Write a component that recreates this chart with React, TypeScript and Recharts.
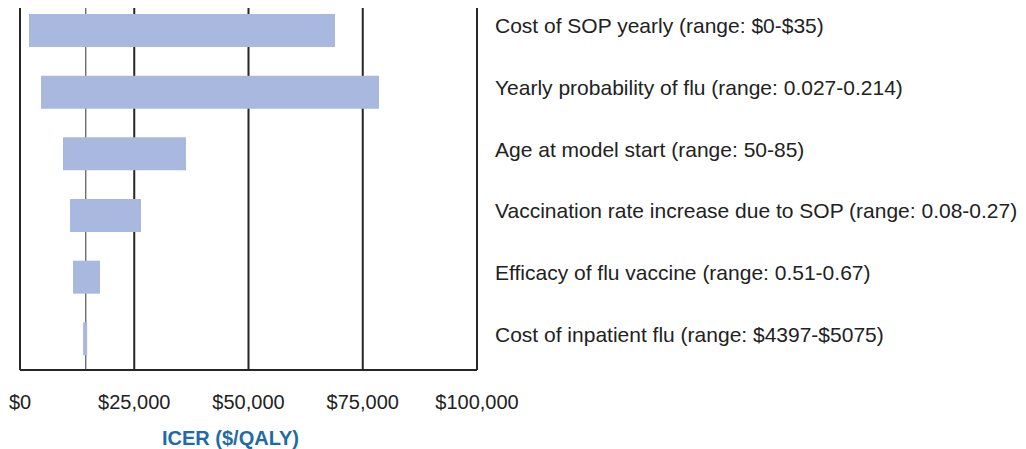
import React from "react";
import { BarChart, Bar, XAxis, YAxis, CartesianGrid, Label } from "recharts";

const parameters = [
  "Cost of SOP yearly (range: $0-$35)",
  "Yearly probability of flu (range: 0.027-0.214)",
  "Age at model start (range: 50-85)",
  "Vaccination rate increase due to SOP (range: 0.08-0.27)",
  "Efficacy of flu vaccine (range: 0.51-0.67)",
  "Cost of inpatient flu (range: $4397-$5075)",
];
const lowIcer = [1970, 4600, 9410, 10940, 11600, 13800];
const highIcer = [68930, 78560, 36320, 26480, 17500, 14700];
const baseCaseIcer = 14400;
const xTicks = [0, 25000, 50000, 75000, 100000];
const xMax = 100000;

const data = parameters.map((name, i) => ({ name, low: lowIcer[i], high: highIcer[i] }));

const fmt = (v: number) => `$${v.toLocaleString("en-US")}`;

const RightTick = (props: any) => {
  const { x, y, payload } = props;
  return (
    <text x={x + 10} y={y - 5} dy="0.35em" textAnchor="start" fontSize={21} fill="#222" fontFamily="Liberation Sans, Arial, sans-serif">
      {payload.value}
    </text>
  );
};

const gridValues = [...xTicks, baseCaseIcer];

const gridLine = (props: any) => {
  const { x1, x2, y1, y2, key, index } = props;
  const isBase = index === gridValues.length - 1;
  return (
    <line
      key={key}
      x1={x1}
      x2={x2}
      y1={y1 + 8}
      y2={y2}
      stroke={isBase ? "#333" : "#262626"}
      strokeWidth={isBase ? 1 : 2}
    />
  );
};

export default function App() {
  return (
    <div style={{ position: "absolute", left: 0, top: 0, width: 1026, height: 449, background: "#fff" }}>
      <BarChart
        width={1026}
        height={449}
        data={data}
        layout="vertical"
        margin={{ top: 0, right: 0, left: 20, bottom: 0 }}
        barSize={33}
      >
        <CartesianGrid
          horizontal={false}
          vertical={gridLine}
          verticalCoordinatesGenerator={({ offset }: any) =>
            gridValues.map((v) => offset.left + (offset.width * v) / xMax)
          }
        />
        <XAxis
          type="number"
          domain={[0, xMax]}
          ticks={xTicks}
          tickFormatter={fmt}
          tickLine={false}
          axisLine={{ stroke: "#262626", strokeWidth: 2 }}
          tick={{ fontSize: 20, fill: "#222", fontFamily: "Liberation Sans, Arial, sans-serif" }}
          tickMargin={19}
          height={79}
          interval={0}
        >
          <Label
            value="ICER ($/QALY)"
            position="insideBottom"
            offset={4}
            dx={-18}
            fill="#1E6BA6"
            fontSize={20}
            fontWeight="bold"
            fontFamily="Liberation Sans, Arial, sans-serif"
          />
        </XAxis>
        <YAxis
          type="category"
          dataKey="name"
          orientation="right"
          width={549}
          axisLine={false}
          tickLine={false}
          tick={<RightTick />}
          interval={0}
        />
        <Bar dataKey={(d: any) => [d.low, d.high]} fill="#A8B8DF" isAnimationActive={false} />
      </BarChart>
    </div>
  );
}
